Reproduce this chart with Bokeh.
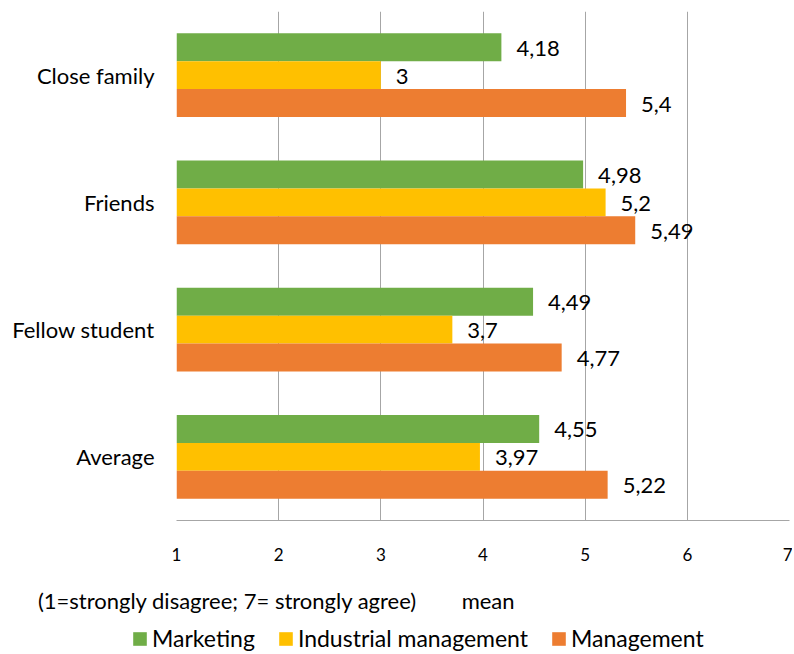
from bokeh.plotting import figure
from bokeh.layouts import column
from bokeh.models import (FactorRange, Range1d, FixedTicker, Legend, LinearAxis,
                          LegendItem, ColumnDataSource)
from bokeh.transform import dodge
from bokeh.core.properties import value
from bokeh.embed import file_html
from bokeh.resources import INLINE

# ---- data ----
categories = ["Close family", "Friends", "Fellow student", "Average"]
series_names = ["Marketing", "Industrial management", "Management"]
marketing = [4.18, 4.98, 4.49, 4.55]
industrial = [3.0, 5.2, 3.7, 3.97]
management = [5.4, 5.49, 4.77, 5.22]
x_ticks = [1, 2, 3, 4, 5, 6, 7]
note_text = "(1=strongly disagree; 7= strongly agree)"
axis_title = "mean"

# ---- layout / style constants ----
colors = ["#70AD47", "#FFC000", "#ED7D31"]
offsets = [0.22, 0.0, -0.22]
FONT = "Lato"
NOTE_AT = 1.5      # where the scale note is centred along the value axis
TITLE_AT = 4.05    # where the axis title is centred along the value axis

W, H1, H2 = 792, 620, 32
p = figure(width=W, height=H1,
           y_range=FactorRange(factors=categories[::-1]),
           x_range=Range1d(x_ticks[0], x_ticks[-1]),
           output_backend="svg", toolbar_location=None,
           min_border_left=176, min_border_right=3,
           min_border_top=11, min_border_bottom=100)
p.outline_line_color = None
p.background_fill_color = "white"
p.border_fill_color = "white"

def fmt(v):
    return f"{v:g}".replace(".", ",")

sources = []
for name, vals, col, off in zip(series_names, [marketing, industrial, management], colors, offsets):
    src = ColumnDataSource(dict(cat=categories, val=vals, left=[x_ticks[0]] * len(vals),
                                lab=[fmt(v) for v in vals]))
    sources.append(src)
    p.hbar(y=dodge("cat", off, range=p.y_range), left="left", right="val",
           height=0.22, source=src, fill_color=col, line_color=None)
    p.text(x="val", y=dodge("cat", off, range=p.y_range), text="lab", source=src,
           x_offset=15, y_offset=1, text_align="left", text_baseline="middle",
           text_font=value(FONT), text_font_size="22px", text_color="black")

# axes
p.xaxis.ticker = FixedTicker(ticks=x_ticks)
p.xaxis.axis_line_color = "#A6A6A6"
p.xaxis.major_tick_line_color = None
p.xaxis.minor_tick_line_color = None
p.xaxis.major_tick_out = 0
p.xaxis.major_tick_in = 0
p.xaxis.major_label_standoff = 27
p.xaxis.major_label_text_font = FONT
p.xaxis.major_label_text_font_size = "17px"
p.xaxis.major_label_text_color = "black"

p.yaxis.axis_line_color = None
p.yaxis.major_tick_line_color = None
p.yaxis.minor_tick_line_color = None
p.yaxis.major_tick_out = 0
p.yaxis.major_tick_in = 0
p.yaxis.major_label_standoff = 22
p.yaxis.major_label_text_font = FONT
p.yaxis.major_label_text_font_size = "22px"
p.yaxis.major_label_text_color = "black"

p.xgrid.ticker = FixedTicker(ticks=x_ticks)
p.xgrid.grid_line_color = "#A6A6A6"
p.ygrid.grid_line_color = None

# second row under the axis: scale note and axis title
ax2 = LinearAxis(ticker=FixedTicker(ticks=[NOTE_AT, TITLE_AT]),
                 major_label_overrides={NOTE_AT: note_text, TITLE_AT: axis_title},
                 axis_line_color=None, major_tick_line_color=None,
                 minor_tick_line_color=None, major_tick_out=0, major_tick_in=0,
                 major_label_standoff=23, major_label_text_font=FONT,
                 major_label_text_font_size="22px", major_label_text_color="black")
p.add_layout(ax2, "below")

# ---- legend strip (series glyphs kept out of view; only the legend shows) ----
q = figure(width=W, height=H2, x_range=Range1d(-2, -1),
           y_range=FactorRange(factors=categories[::-1]),
           x_axis_type=None, y_axis_type=None,
           output_backend="svg", toolbar_location=None,
           min_border_left=0, min_border_right=0, min_border_top=0, min_border_bottom=0)
leg_x = 131
if "frame_align" in q.properties():
    q.frame_align = False
else:
    leg_x = 131 - 177
q.outline_line_color = None
q.grid.visible = False
q.background_fill_color = "white"
q.border_fill_color = "white"
swatches = []
for src, col in zip(sources, colors):
    swatches.append(q.hbar(y="cat", left="left", right="val", height=0.22, source=src,
                           fill_color=col, line_color=None))

legend = Legend(items=[LegendItem(label=n, renderers=[r]) for n, r in zip(series_names, swatches)],
                location=(leg_x, 0), orientation="horizontal",
                border_line_color=None, background_fill_alpha=0,
                padding=0, margin=0, spacing=22, label_standoff=4,
                glyph_width=17, glyph_height=17, label_height=17,
                label_text_font=FONT, label_text_font_size="23px", label_text_color="black")
q.add_layout(legend)

layout = column(p, q, spacing=0)
open("out.html", "w").write(file_html(layout, INLINE))
